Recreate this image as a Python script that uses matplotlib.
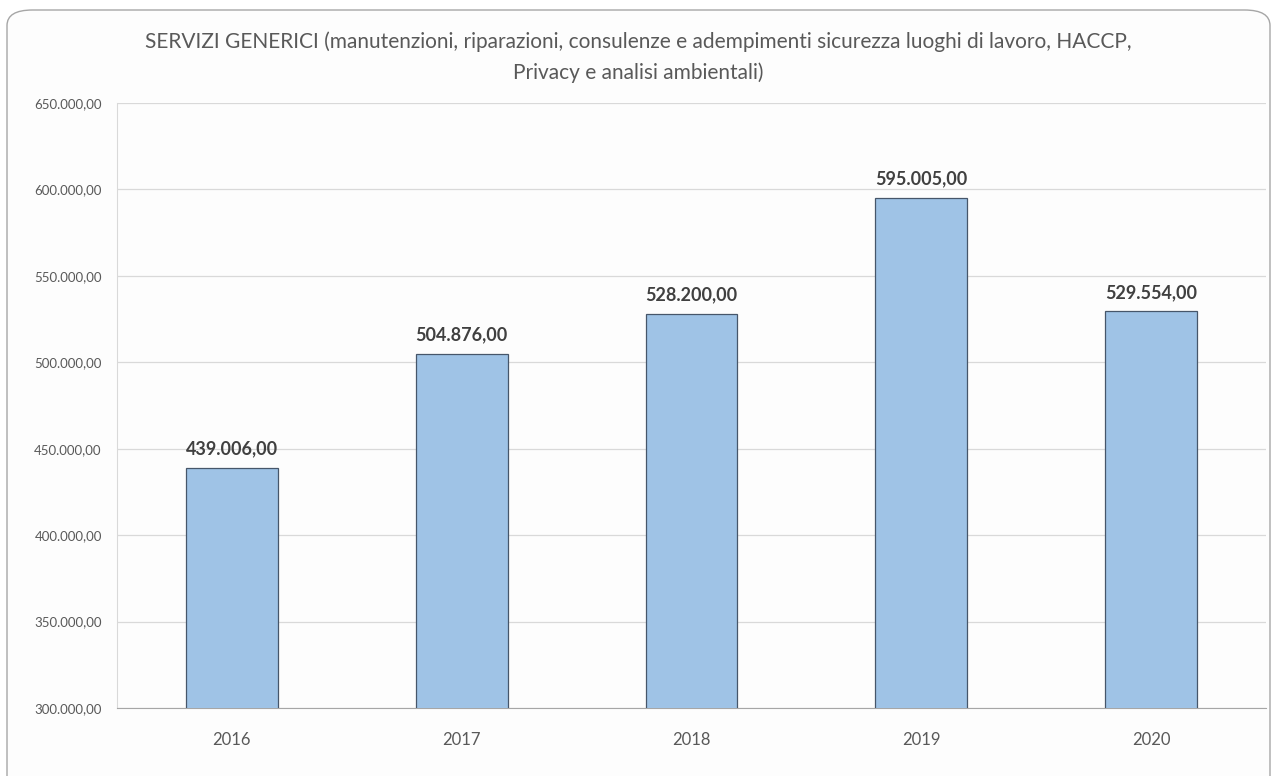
import matplotlib.pyplot as plt
from matplotlib.patches import FancyBboxPatch
from matplotlib.ticker import FuncFormatter

anni = ["2016", "2017", "2018", "2019", "2020"]
importi = [439006.00, 504876.00, 528200.00, 595005.00, 529554.00]
titolo = ("SERVIZI GENERICI (manutenzioni, riparazioni, consulenze e adempimenti sicurezza luoghi di lavoro, HACCP,\n"
          "Privacy e analisi ambientali)")

def euro_fmt(v):
  s = "{:,.2f}".format(v)
  return s.replace(",", "X").replace(".", ",").replace("X", ".")

plt.rcParams['font.family'] = ['Lato', 'DejaVu Sans']

fig = plt.figure(figsize=(12.76, 7.76), dpi=100)
fig.patch.set_facecolor('white')

# rounded frame around the whole chart
frame = FancyBboxPatch((7/1276, -0.05), 1263/1276, 1.05 - 10/776,
                       boxstyle="round,pad=0,rounding_size=0.02",
                       transform=fig.transFigure, facecolor='#fdfdfd',
                       edgecolor='#a6a6a6', linewidth=1.0, zorder=-5)
fig.patches.append(frame)

ax = fig.add_axes([117/1276, 1 - 708/776, 1149/1276, 605/776], zorder=2)
ax.set_facecolor('none')

x = range(len(anni))
bars = ax.bar(x, importi, width=0.40, color='#9fc3e6', edgecolor='#46566a',
              linewidth=0.9, zorder=3)

for xi, v in zip(x, importi):
  ax.text(xi, v + 6000, euro_fmt(v), ha='center', va='bottom',
          fontsize=13, fontweight='bold', color='#404040')

ax.set_ylim(300000, 650000)
ax.set_xlim(-0.5, len(anni) - 0.5)
ax.set_yticks(range(300000, 650001, 50000))
ax.yaxis.set_major_formatter(FuncFormatter(lambda v, p: euro_fmt(v)))
ax.set_xticks(list(x))
ax.set_xticklabels(anni)
ax.grid(axis='y', color='#d9d9d9', linewidth=0.9, zorder=0)
ax.tick_params(axis='y', length=0, pad=11, labelsize=9.5, labelcolor='#595959')
ax.tick_params(axis='x', length=0, pad=17, labelsize=12, labelcolor='#595959')

for side in ['top', 'right']:
  ax.spines[side].set_visible(False)
ax.spines['left'].set_color('#d9d9d9')
ax.spines['bottom'].set_color('#a6a6a6')

fig.text(0.5, 1 - 57/776, titolo, ha='center', va='center', fontsize=15,
         color='#595959', linespacing=1.6)

plt.savefig('out.png', dpi=100, facecolor=fig.get_facecolor())
